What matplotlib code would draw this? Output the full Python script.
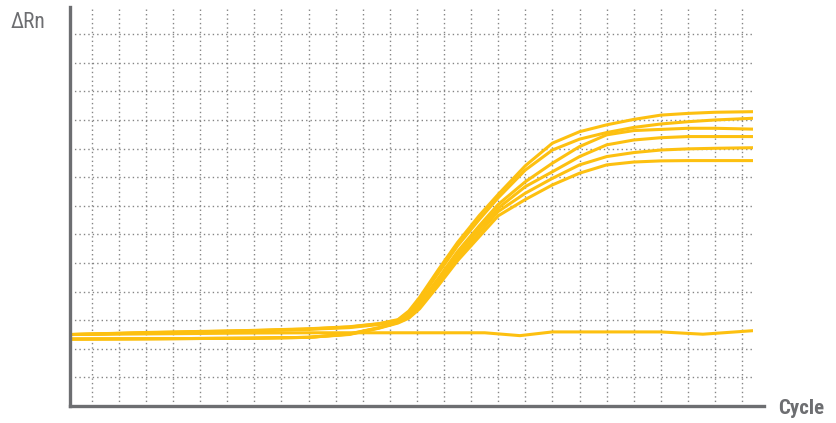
import matplotlib
matplotlib.use("Agg")
import matplotlib.pyplot as plt

# cycle positions (grid units) where the curves were read
cycles = [0.3, 3.0, 6.8, 9.0, 10.5, 11.6, 12.3, 12.7, 13.1, 13.8, 14.5, 15.3,
          16, 17, 18, 19, 20, 21, 22, 23, 24, 25.4]

# amplification curves (delta Rn)
curve_1 = [2.50, 2.57, 2.64, 2.70, 2.77, 2.88, 3.02, 3.32, 3.80, 4.78, 5.72, 6.66,
           7.40, 8.40, 9.19, 9.59, 9.83, 10.02, 10.17, 10.23, 10.27, 10.29]
curve_2 = [2.50, 2.56, 2.63, 2.69, 2.76, 2.87, 3.00, 3.27, 3.72, 4.66, 5.60, 6.52,
           7.28, 8.25, 8.95, 9.33, 9.56, 9.74, 9.86, 9.94, 10.00, 10.06]
curve_3 = [2.50, 2.55, 2.62, 2.68, 2.74, 2.85, 2.98, 3.20, 3.60, 4.48, 5.40, 6.30,
           7.05, 7.84, 8.49, 9.07, 9.48, 9.63, 9.67, 9.71, 9.71, 9.68]
curve_4 = [2.34, 2.35, 2.37, 2.40, 2.52, 2.74, 2.94, 3.15, 3.52, 4.40, 5.30, 6.18,
           6.92, 7.67, 8.19, 8.72, 9.13, 9.30, 9.38, 9.42, 9.42, 9.42]
curve_5 = [2.34, 2.35, 2.37, 2.40, 2.51, 2.73, 2.92, 3.10, 3.45, 4.30, 5.18, 6.05,
           6.80, 7.44, 7.96, 8.43, 8.72, 8.86, 8.95, 8.99, 9.01, 9.03]
curve_6 = [2.34, 2.35, 2.37, 2.40, 2.50, 2.72, 2.90, 3.07, 3.40, 4.22, 5.08, 5.92,
           6.65, 7.22, 7.73, 8.14, 8.43, 8.53, 8.57, 8.58, 8.58, 8.58]

# negative control (flat)
neg_cycles = [0.3, 3.0, 6.8, 9.0, 12.0, 15.5, 16.8, 18.0, 22.0, 23.55, 25.35]
neg_values = [2.50, 2.52, 2.55, 2.56, 2.56, 2.56, 2.46, 2.59, 2.59, 2.51, 2.63]

line_color = "#FDC010"
axis_color = "#6d6e71"

fig = plt.figure(figsize=(8.36, 4.23), dpi=100)
ax = fig.add_axes([70 / 836, 17 / 423, 683 / 836, 399 / 423])

for curve in [curve_1, curve_2, curve_3, curve_4, curve_5, curve_6]:
    ax.plot(cycles, curve, color=line_color, lw=2.2, solid_joinstyle="round")
ax.plot(neg_cycles, neg_values, color=line_color, lw=2.2)

ax.set_xlim(0.2, 25.4)
ax.set_ylim(0, 13.95)
ax.set_xticks(range(1, 26))
ax.set_yticks(range(1, 14))
ax.tick_params(length=0, labelbottom=False, labelleft=False)
ax.grid(True, color="#858585", lw=1.0, linestyle=(0, (1, 2.2)))
ax.set_axisbelow(True)

for side in ["top", "right"]:
    ax.spines[side].set_visible(False)
for side in ["left", "bottom"]:
    ax.spines[side].set_color(axis_color)
    ax.spines[side].set_linewidth(2.4)
ax.spines["bottom"].set_bounds(0.2, 25.8)

font = ["Roboto Condensed", "DejaVu Sans"]
fig.text(11 / 836, 1 - 22 / 423, "ΔRn", family=font, fontstretch="condensed",
         fontsize=15.5, color=axis_color, ha="left", va="center")
fig.text(778 / 836, 1 - 408 / 423, "Cycle", family=font, fontstretch="condensed",
         fontsize=15, fontweight="bold", color=axis_color, ha="left", va="center")

fig.savefig("out.png", dpi=100)
